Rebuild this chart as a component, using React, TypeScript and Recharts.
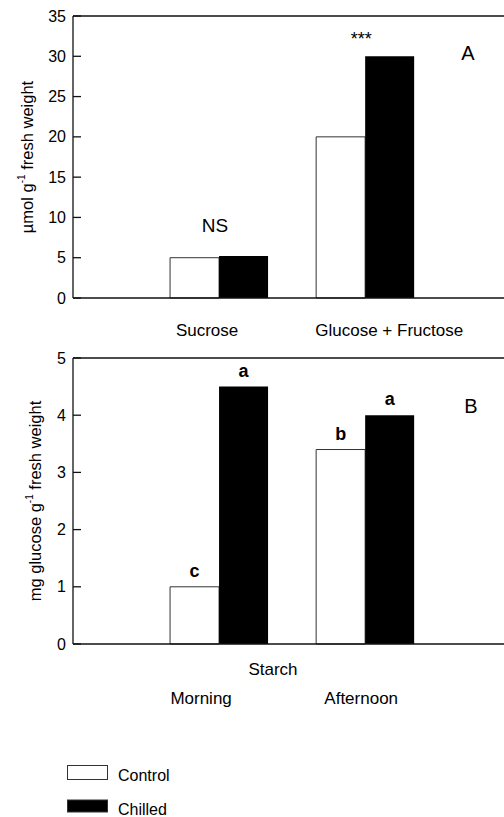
import React from 'react';
import { BarChart, Bar, XAxis, YAxis, LabelList, Label, Customized, ReferenceLine } from 'recharts';

const FONT = '"Liberation Sans", Arial, Helvetica, sans-serif';

// ---- Panel A data (sugars) ----
const sugarCategories = ['Sucrose', 'Glucose + Fructose'];
const sugarControl = [5.0, 20.0];
const sugarChilled = [5.2, 30.0];
const sugarSignif = ['NS', '***'];
const sugarTicks = [0, 5, 10, 15, 20, 25, 30, 35];

// ---- Panel B data (starch) ----
const starchCategories = ['Morning', 'Afternoon'];
const starchControl = [1.0, 3.4];
const starchChilled = [4.5, 4.0];
const starchControlLetters = ['c', 'b'];
const starchChilledLetters = ['a', 'a'];
const starchTicks = [0, 1, 2, 3, 4, 5];

const seriesNames = ['Control', 'Chilled'];
const seriesFills = ['#ffffff', '#000000'];

const sugarData = sugarCategories.map((c, i) => ({
  pos: i + 1,
  name: c,
  control: sugarControl[i],
  chilled: sugarChilled[i],
  sig: sugarSignif[i],
}));

const starchData = starchCategories.map((c, i) => ({
  pos: i + 1,
  name: c,
  control: starchControl[i],
  chilled: starchChilled[i],
  cl: starchControlLetters[i],
  hl: starchChilledLetters[i],
}));

const AXIS = '#111';

const YTick = (props: any) => {
  const { x, y, payload } = props;
  return (
    <g>
      <line x1={x + 7} x2={x + 15} y1={y} y2={y} stroke={AXIS} strokeWidth={1.3} />
      <text x={x} y={y} textAnchor="end" dominantBaseline="central" fontSize={16} fontFamily={FONT} fill="#000">
        {payload.value}
      </text>
    </g>
  );
};

const makeXTick = (labels: string[], shifts: number[], dy: number) => (props: any) => {
  const { x, y, index } = props;
  return (
    <text x={x + shifts[index]} y={y + dy} textAnchor="middle" dominantBaseline="central" fontSize={17} fontFamily={FONT} fill="#000">
      {labels[index]}
    </text>
  );
};

const SugarTick = makeXTick(sugarCategories, [-12, 24], 32);
const StarchTick = makeXTick(starchCategories, [-18, -4], 54);

const SigLabel = (props: any) => {
  const { x, y, value } = props;
  const ns = value === 'NS';
  return (
    <text
      x={x - 4}
      y={ns ? y - 31 : y - 11}
      textAnchor="middle"
      dominantBaseline={ns ? 'central' : 'alphabetic'}
      fontSize={ns ? 19 : 18}
      fontFamily={FONT}
      fill="#000"
    >
      {value}
    </text>
  );
};

const LetterLabel = (props: any) => {
  const { x, y, width, value } = props;
  return (
    <text x={x + width / 2} y={y - 16} textAnchor="middle" dominantBaseline="central" fontSize={18} fontWeight="bold" fontFamily={FONT} fill="#000">
      {value}
    </text>
  );
};

const yLabel = (main: string, rest: string, dxFromLeft: number) => (props: any) => {
  const vb = props.viewBox || {};
  const cx = (vb.x || 0) + dxFromLeft;
  const cy = (vb.y || 0) + (vb.height || 0) / 2;
  return (
    <text transform={`translate(${cx}, ${cy}) rotate(-90)`} textAnchor="middle" dominantBaseline="central" fontSize={16.5} fontFamily={FONT} fill="#000">
      {main}
      <tspan dy={-6} fontSize={10}>-1</tspan>
      <tspan dy={6}>{rest}</tspan>
    </text>
  );
};

const PanelLetter = (letter: string, x: number, y: number) => () => (
  <text x={x} y={y} textAnchor="middle" dominantBaseline="central" fontSize={20} fontFamily={FONT} fill="#000">
    {letter}
  </text>
);

const X_DOMAIN: [number, number] = [0, 2.95];

export default function App() {
  return (
    <div style={{ position: 'absolute', left: 0, top: 0, width: 504, height: 817, background: '#fff', fontFamily: FONT }}>
      <div style={{ position: 'absolute', left: 0, top: 0 }}>
        <BarChart width={504} height={345} data={sugarData} margin={{ top: 16, right: 0, left: 0, bottom: 7 }} barGap={0} barSize={49}>
          <XAxis
            type="number"
            dataKey="pos"
            domain={X_DOMAIN}
            allowDataOverflow
            ticks={[1, 2]}
            interval={0}
            height={40}
            tickSize={0}
            tickMargin={0}
            tickLine={false}
            tick={SugarTick}
            axisLine={{ stroke: AXIS, strokeWidth: 1.3 }}
          />
          <YAxis
            type="number"
            domain={[0, 35]}
            ticks={sugarTicks}
            interval={0}
            width={73}
            tickSize={0}
            tickMargin={7}
            tickLine={false}
            tick={YTick}
            axisLine={{ stroke: AXIS, strokeWidth: 1.3 }}
          >
            <Label content={yLabel('µmol g', ' fresh weight', 27)} />
          </YAxis>
          <ReferenceLine y={sugarTicks[sugarTicks.length - 1]} stroke={AXIS} strokeWidth={1.3} ifOverflow="extendDomain" />
          <Bar dataKey="control" name={seriesNames[0]} fill={seriesFills[0]} stroke="#333" strokeWidth={1} isAnimationActive={false} />
          <Bar dataKey="chilled" name={seriesNames[1]} fill={seriesFills[1]} isAnimationActive={false}>
            <LabelList dataKey="sig" content={SigLabel} />
          </Bar>
          <Customized component={PanelLetter('A', 468, 53)} />
        </BarChart>
      </div>
      <div style={{ position: 'absolute', left: 0, top: 345 }}>
        <BarChart width={504} height={375} data={starchData} margin={{ top: 13, right: 0, left: 0, bottom: 16 }} barGap={0} barSize={49}>
          <XAxis
            type="number"
            dataKey="pos"
            domain={X_DOMAIN}
            allowDataOverflow
            ticks={[1, 2]}
            interval={0}
            height={60}
            tickSize={0}
            tickMargin={0}
            tickLine={false}
            tick={StarchTick}
            axisLine={{ stroke: AXIS, strokeWidth: 1.3 }}
          >
            <Label
              content={(p: any) => {
                const vb = p.viewBox || {};
                return (
                  <text x={(vb.x || 0) + 200} y={(vb.y || 0) + 25} textAnchor="middle" dominantBaseline="central" fontSize={17} fontFamily={FONT} fill="#000">
                    Starch
                  </text>
                );
              }}
            />
          </XAxis>
          <YAxis
            type="number"
            domain={[0, 5]}
            ticks={starchTicks}
            interval={0}
            width={73}
            tickSize={0}
            tickMargin={7}
            tickLine={false}
            tick={YTick}
            axisLine={{ stroke: AXIS, strokeWidth: 1.3 }}
          >
            <Label content={yLabel('mg glucose g', ' fresh weight', 35)} />
          </YAxis>
          <ReferenceLine y={starchTicks[starchTicks.length - 1]} stroke={AXIS} strokeWidth={1.3} ifOverflow="extendDomain" />
          <Bar dataKey="control" name={seriesNames[0]} fill={seriesFills[0]} stroke="#333" strokeWidth={1} isAnimationActive={false}>
            <LabelList dataKey="cl" content={LetterLabel} />
          </Bar>
          <Bar dataKey="chilled" name={seriesNames[1]} fill={seriesFills[1]} isAnimationActive={false}>
            <LabelList dataKey="hl" content={LetterLabel} />
          </Bar>
          <Customized component={PanelLetter('B', 471, 61)} />
        </BarChart>
      </div>
      <svg style={{ position: 'absolute', left: 0, top: 750 }} width={220} height={67}>
        {seriesNames.map((n, i) => (
          <g key={n}>
            <rect x={67.5} y={i === 0 ? 15.5 : 50} width={40} height={i === 0 ? 14 : 12} fill={seriesFills[i]} stroke="#333" strokeWidth={1} />
            <text x={118} y={i === 0 ? 25 : 59} dominantBaseline="central" fontSize={16} fontFamily={FONT} fill="#000">
              {n}
            </text>
          </g>
        ))}
      </svg>
    </div>
  );
}
